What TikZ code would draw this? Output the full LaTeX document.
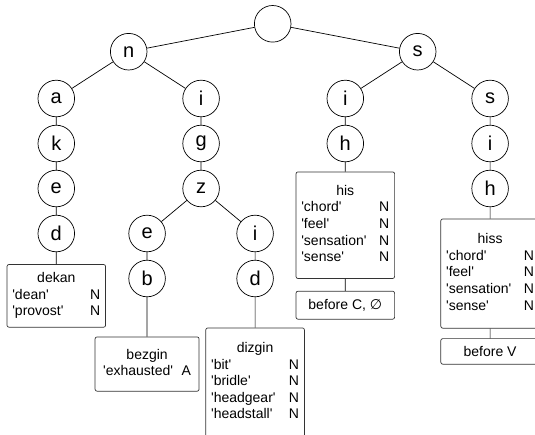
\documentclass[tikz,border=0pt]{standalone}
\usepackage{fontspec}
\setmainfont{Liberation Sans}
\newfontfamily\symfont{DejaVu Sans}
\usetikzlibrary{positioning}
\newcommand{\gl}[1]{\textquotesingle#1\textquotesingle}
\newcommand{\lexentry}[2]{\begin{tabular*}{88pt}{@{}l@{\extracolsep{\fill}}r@{}}\multicolumn{2}{@{}c@{}}{#1}\\#2\end{tabular*}}

\begin{document}
\begin{tikzpicture}[font=\fontsize{14}{16.6}\selectfont, line width=0.7pt]
    \tikzstyle{letter}=[draw, circle, minimum size=36.6pt, inner sep=0pt, font=\fontsize{20}{24}\selectfont, node distance=45pt, on grid]
    \tikzstyle{entry}=[draw=black!80, rounded corners=2pt, minimum width=98.6pt, inner sep=0pt]
    \useasboundingbox (-272.7pt,23.8pt) rectangle (262.3pt,-410.2pt);

    \node[letter] (root) {};
    \node[letter,below left=27.9pt and 144pt of root] (n) {n};
    \node[letter,below right=27.9pt and 145pt of root] (s) {s};

    % dekan
    \node[letter,below left=46.8pt and 72.4pt of n] (na) {a};
    \node[letter,below=of na] (nak) {k};
    \node[letter,below=of nak] (nake) {e};
    \node[letter,below=of nake] (naked) {d};
    \node[entry,minimum height=62.7pt,below=12pt of naked] (dekan) {\lexentry{dekan}{\gl{dean} & N\\\gl{provost} & N}};

    % bezgin, dizgin
    \node[letter,below right=46.8pt and 72.4pt of n] (ni) {i};
    \node[letter,below=of ni] (nig) {g};
    \node[letter,below=of nig] (nigz) {z};
    \node[letter,below left=45pt and 54pt of nigz] (nigze) {e};
    \node[letter,below=of nigze] (nigzeb) {b};
    \node[entry,minimum width=104pt,minimum height=54.3pt,below=39.4pt of nigzeb] (bezgin) {\lexentry{bezgin}{\gl{exhausted} & A}};
    \node[letter,below right=45pt and 54pt of nigz] (nigzi) {i};
    \node[letter,below=of nigzi] (nigzid) {d};
    \node[entry,minimum height=109pt,below=30.4pt of nigzid] (dizgin) {\lexentry{dizgin}{\gl{bit} & N\\\gl{bridle} & N\\\gl{headgear} & N\\\gl{headstall} & N}};

    % his
    \node[letter,below left=46.8pt and 72.4pt of s] (si) {i};
    \node[letter,below=of si] (sih) {h};
    \node[entry,minimum height=106.6pt,below=9.4pt of sih] (his) {\lexentry{his}{\gl{chord} & N\\\gl{feel} & N\\\gl{sensation} & N\\\gl{sense} & N}};
    \node[entry,minimum height=28pt,below=12pt of his] (beforec) {before C, {\symfont ∅}};

    % hiss
    \node[letter,below right=46.8pt and 72.4pt of s] (ss) {s};
    \node[letter,below=of ss] (ssi) {i};
    \node[letter,below=of ssi] (ssih) {h};
    \node[entry,minimum height=109.3pt,below=11.4pt of ssih] (hiss) {\lexentry{hiss}{\gl{chord} & N\\\gl{feel} & N\\\gl{sensation} & N\\\gl{sense} & N}};
    \node[entry,minimum height=25.6pt,below=9.7pt of hiss] (beforev) {before V};

    \draw (root) -- (n);
    \draw (root) -- (s);
    \draw (n) -- (na) -- (nak) -- (nake) -- (naked) -- (dekan);
    \draw (n) -- (ni) -- (nig) -- (nigz);
    \draw (nigz) -- (nigze) -- (nigzeb) -- (bezgin);
    \draw (nigz) -- (nigzi) -- (nigzid) -- (dizgin);
    \draw (s) -- (si) -- (sih) -- (his) -- (beforec);
    \draw (s) -- (ss) -- (ssi) -- (ssih) -- (hiss) -- (beforev);
\end{tikzpicture}
\end{document}
